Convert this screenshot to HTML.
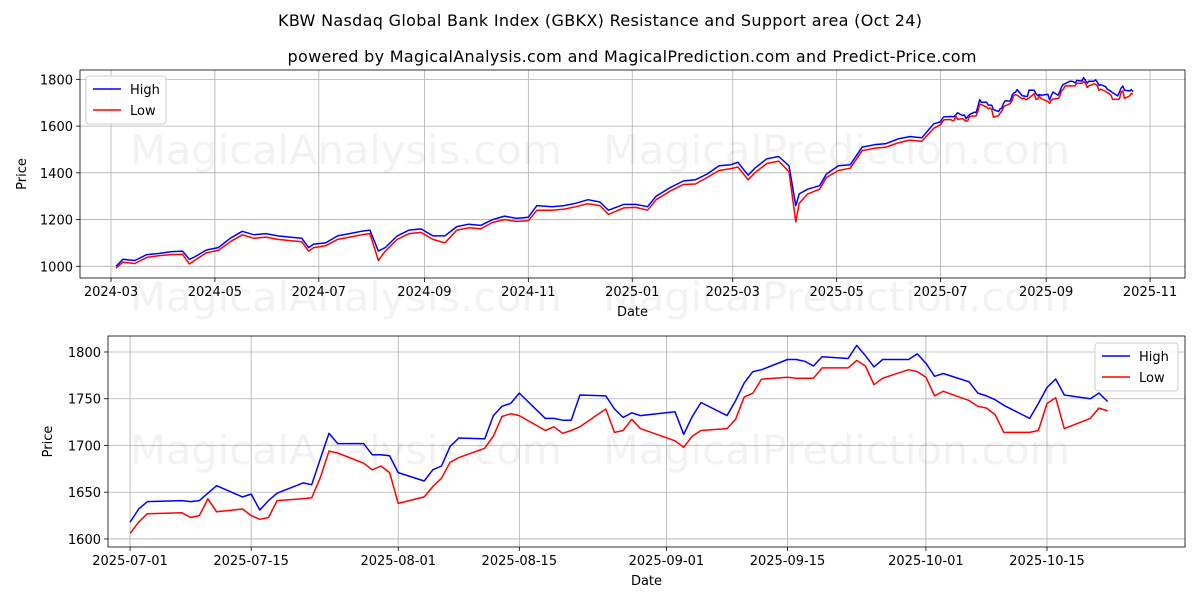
<!DOCTYPE html>
<html><head><meta charset="utf-8"><style>
body{margin:0;background:#fff;}
svg{display:block;font-family:"DejaVu Sans","Liberation Sans",sans-serif;}
</style></head><body>
<svg id="chart" width="1200" height="600" xmlns="http://www.w3.org/2000/svg">
<text x="600" y="26" text-anchor="middle" font-size="16" textLength="644">KBW Nasdaq Global Bank Index (GBKX) Resistance and Support area (Oct 24)</text>
<text x="632" y="62" text-anchor="middle" font-size="16" textLength="689">powered by MagicalAnalysis.com and MagicalPrediction.com and Predict-Price.com</text>
<g id="top"></g>
<g id="bot"></g>
</svg>
<script>
const topDates=["2024-03-04","2024-03-08","2024-03-15","2024-03-22","2024-03-29","2024-04-05","2024-04-12","2024-04-16","2024-04-19","2024-04-26","2024-05-03","2024-05-10","2024-05-17","2024-05-24","2024-05-31","2024-06-07","2024-06-14","2024-06-21","2024-06-25","2024-06-28","2024-07-05","2024-07-12","2024-07-19","2024-07-26","2024-07-31","2024-08-05","2024-08-09","2024-08-16","2024-08-23","2024-08-30","2024-09-06","2024-09-13","2024-09-20","2024-09-27","2024-10-04","2024-10-11","2024-10-18","2024-10-25","2024-11-01","2024-11-06","2024-11-15","2024-11-22","2024-11-29","2024-12-06","2024-12-13","2024-12-18","2024-12-27","2025-01-03","2025-01-10","2025-01-15","2025-01-24","2025-01-31","2025-02-07","2025-02-14","2025-02-21","2025-02-28","2025-03-04","2025-03-10","2025-03-14","2025-03-21","2025-03-28","2025-04-03","2025-04-07","2025-04-09","2025-04-14","2025-04-21","2025-04-25","2025-05-02","2025-05-09","2025-05-16","2025-05-23","2025-05-30","2025-06-06","2025-06-13","2025-06-20","2025-06-27"];
const topHigh=[1000,1030,1025,1050,1055,1062,1065,1030,1040,1070,1080,1120,1150,1135,1140,1130,1125,1120,1080,1095,1100,1130,1140,1150,1155,1065,1080,1130,1155,1160,1130,1130,1170,1180,1175,1200,1215,1205,1210,1260,1255,1260,1270,1285,1275,1240,1265,1265,1255,1300,1340,1365,1370,1395,1430,1435,1445,1390,1420,1460,1470,1430,1260,1310,1330,1345,1395,1430,1435,1510,1520,1525,1545,1555,1550,1610];
const topLow=[992,1018,1012,1038,1045,1050,1052,1010,1025,1058,1068,1105,1135,1120,1125,1115,1110,1105,1065,1080,1088,1115,1125,1135,1140,1025,1065,1115,1140,1145,1115,1100,1155,1165,1160,1188,1200,1192,1195,1240,1240,1245,1255,1268,1260,1222,1250,1252,1240,1285,1325,1350,1352,1380,1410,1418,1425,1370,1400,1440,1450,1405,1190,1270,1310,1330,1380,1410,1420,1495,1505,1510,1528,1540,1535,1590];
const botDates=["2025-07-01","2025-07-02","2025-07-03","2025-07-07","2025-07-08","2025-07-09","2025-07-10","2025-07-11","2025-07-14","2025-07-15","2025-07-16","2025-07-17","2025-07-18","2025-07-21","2025-07-22","2025-07-23","2025-07-24","2025-07-25","2025-07-28","2025-07-29","2025-07-30","2025-07-31","2025-08-01","2025-08-04","2025-08-05","2025-08-06","2025-08-07","2025-08-08","2025-08-11","2025-08-12","2025-08-13","2025-08-14","2025-08-15","2025-08-18","2025-08-19","2025-08-20","2025-08-21","2025-08-22","2025-08-25","2025-08-26","2025-08-27","2025-08-28","2025-08-29","2025-09-02","2025-09-03","2025-09-04","2025-09-05","2025-09-08","2025-09-09","2025-09-10","2025-09-11","2025-09-12","2025-09-15","2025-09-16","2025-09-17","2025-09-18","2025-09-19","2025-09-22","2025-09-23","2025-09-24","2025-09-25","2025-09-26","2025-09-29","2025-09-30","2025-10-01","2025-10-02","2025-10-03","2025-10-06","2025-10-07","2025-10-08","2025-10-09","2025-10-10","2025-10-13","2025-10-14","2025-10-15","2025-10-16","2025-10-17","2025-10-20","2025-10-21","2025-10-22"];
const botHigh=[1618,1632,1640,1641,1640,1641,1649,1657,1645,1648,1631,1641,1649,1660,1658,1686,1713,1702,1702,1690,1690,1689,1671,1662,1674,1678,1699,1708,1707,1732,1742,1745,1756,1729,1729,1727,1727,1754,1753,1739,1730,1735,1732,1736,1712,1731,1746,1732,1748,1767,1779,1781,1792,1792,1790,1785,1795,1793,1807,1796,1784,1792,1792,1798,1788,1774,1777,1768,1756,1753,1749,1743,1729,1745,1762,1771,1754,1750,1756,1747];
const botLow=[1606,1618,1627,1628,1623,1625,1643,1629,1632,1625,1621,1623,1641,1643,1644,1666,1694,1692,1681,1674,1678,1671,1638,1645,1656,1665,1682,1687,1697,1710,1731,1734,1732,1716,1720,1713,1716,1720,1739,1714,1716,1728,1718,1705,1698,1710,1716,1718,1728,1752,1756,1771,1773,1772,1772,1772,1783,1783,1791,1785,1765,1772,1781,1779,1773,1753,1758,1748,1742,1740,1733,1714,1714,1716,1745,1751,1718,1729,1740,1737];
const topXTicks=["2024-03","2024-05","2024-07","2024-09","2024-11","2025-01","2025-03","2025-05","2025-07","2025-09","2025-11"];
const topYTicks=[1000,1200,1400,1600,1800];
const botXTicks=["2025-07-01","2025-07-15","2025-08-01","2025-08-15","2025-09-01","2025-09-15","2025-10-01","2025-10-15"];
const botYTicks=[1600,1650,1700,1750,1800];

const NS="http://www.w3.org/2000/svg";
const day=s=>Date.parse(s.length===7?s+"-01":s)/86400000;
function mk(p,tag,a){const e=document.createElementNS(NS,tag);for(const k in a)e.setAttribute(k,a[k]);p.appendChild(e);return e;}
function panel(g,box,xd,yd,dates,hi,lo,xt,yt,legendBox,wmY,pre){
  const X=d=>box.x0+(day(d)-xd[0])/(xd[1]-xd[0])*(box.x1-box.x0);
  const Y=v=>box.y1-(v-yd[0])/(yd[1]-yd[0])*(box.y1-box.y0);
  for(const t of xt){const x=X(t);
    const l=mk(g,"line",{x1:x,x2:x,y1:box.y0,y2:box.y1,stroke:"#b0b0b0","stroke-width":0.8});
    
    mk(g,"line",{x1:x,x2:x,y1:box.y1,y2:box.y1+4,stroke:"#000","stroke-width":0.8});
    const tx=mk(g,"text",{x:x,y:box.y1+18,"text-anchor":"middle","font-size":13});tx.textContent=t;
    }
  for(const t of yt){const y=Y(t);
    const l=mk(g,"line",{x1:box.x0,x2:box.x1,y1:y,y2:y,stroke:"#b0b0b0","stroke-width":0.8});
    
    mk(g,"line",{x1:box.x0-4,x2:box.x0,y1:y,y2:y,stroke:"#000","stroke-width":0.8});
    const tx=mk(g,"text",{x:box.x0-7,y:y+5,"text-anchor":"end","font-size":13});tx.textContent=t;
    }
  for(const wy of wmY){
    [["MagicalAnalysis.com",130,432],["MagicalPrediction.com",603,467]].forEach(w=>{
      const e=mk(g,"text",{x:w[1],y:wy,"font-size":40,fill:"#000","fill-opacity":0.05,textLength:w[2],lengthAdjust:"spacingAndGlyphs"});
      e.textContent=w[0];
      });}
  const path=(arr,c,n)=>{const p=mk(g,"polyline",{points:arr.map((v,i)=>X(dates[i]).toFixed(1)+","+Y(v).toFixed(1)).join(" "),fill:"none",stroke:c,"stroke-width":1.5,"stroke-linejoin":"round"});
    };
  path(hi,"#0000ff",pre+"-high-line");path(lo,"#ff0000",pre+"-low-line");
  const f=mk(g,"rect",{x:box.x0,y:box.y0,width:box.x1-box.x0,height:box.y1-box.y0,fill:"none",stroke:"#000","stroke-width":0.8});
  
  const xl=mk(g,"text",{x:(box.x0+box.x1)/2,y:box.y1+38,"text-anchor":"middle","font-size":13});xl.textContent="Date";
  
  const cy=(box.y0+box.y1)/2;
  const yl=mk(g,"text",{x:0,y:0,"text-anchor":"middle","font-size":13,transform:`translate(${box.x0-54+(pre==="top"?0:-2)},${cy}) rotate(-90)`});yl.textContent="Price";
  
  const lb=legendBox;
  const lg=mk(g,"g",{});
  mk(lg,"rect",{x:lb.x,y:lb.y,width:lb.w,height:48,rx:3,fill:"#fff","fill-opacity":0.8,stroke:"#ccc"});
  [["High","#0000ff"],["Low","#ff0000"]].forEach((e,i)=>{const yy=lb.y+13+i*21;
    mk(lg,"line",{x1:lb.x+7,x2:lb.x+35,y1:yy,y2:yy,stroke:e[1],"stroke-width":1.5});
    const t=mk(lg,"text",{x:lb.x+44,y:yy+5,"font-size":13});t.textContent=e[0];
    });
}
const tD=topDates.concat(botDates), tH=topHigh.concat(botHigh), tL=topLow.concat(botLow);
panel(document.getElementById("top"),{x0:80,x1:1185,y0:70,y1:278},[day("2024-03-01")-18.2,day("2025-11-01")+20.5],[950,1840],tD,tH,tL,topXTicks,topYTicks,{x:86,y:76,w:80},[164,311],"top");
panel(document.getElementById("bot"),{x0:108,x1:1185,y0:336,y1:547},[day("2025-07-01")-2.55,day("2025-10-15")+15.95],[1591.4,1817.1],botDates,botHigh,botLow,botXTicks,botYTicks,{x:1095,y:343,w:83},[464],"bot");
</script>
</body></html>
